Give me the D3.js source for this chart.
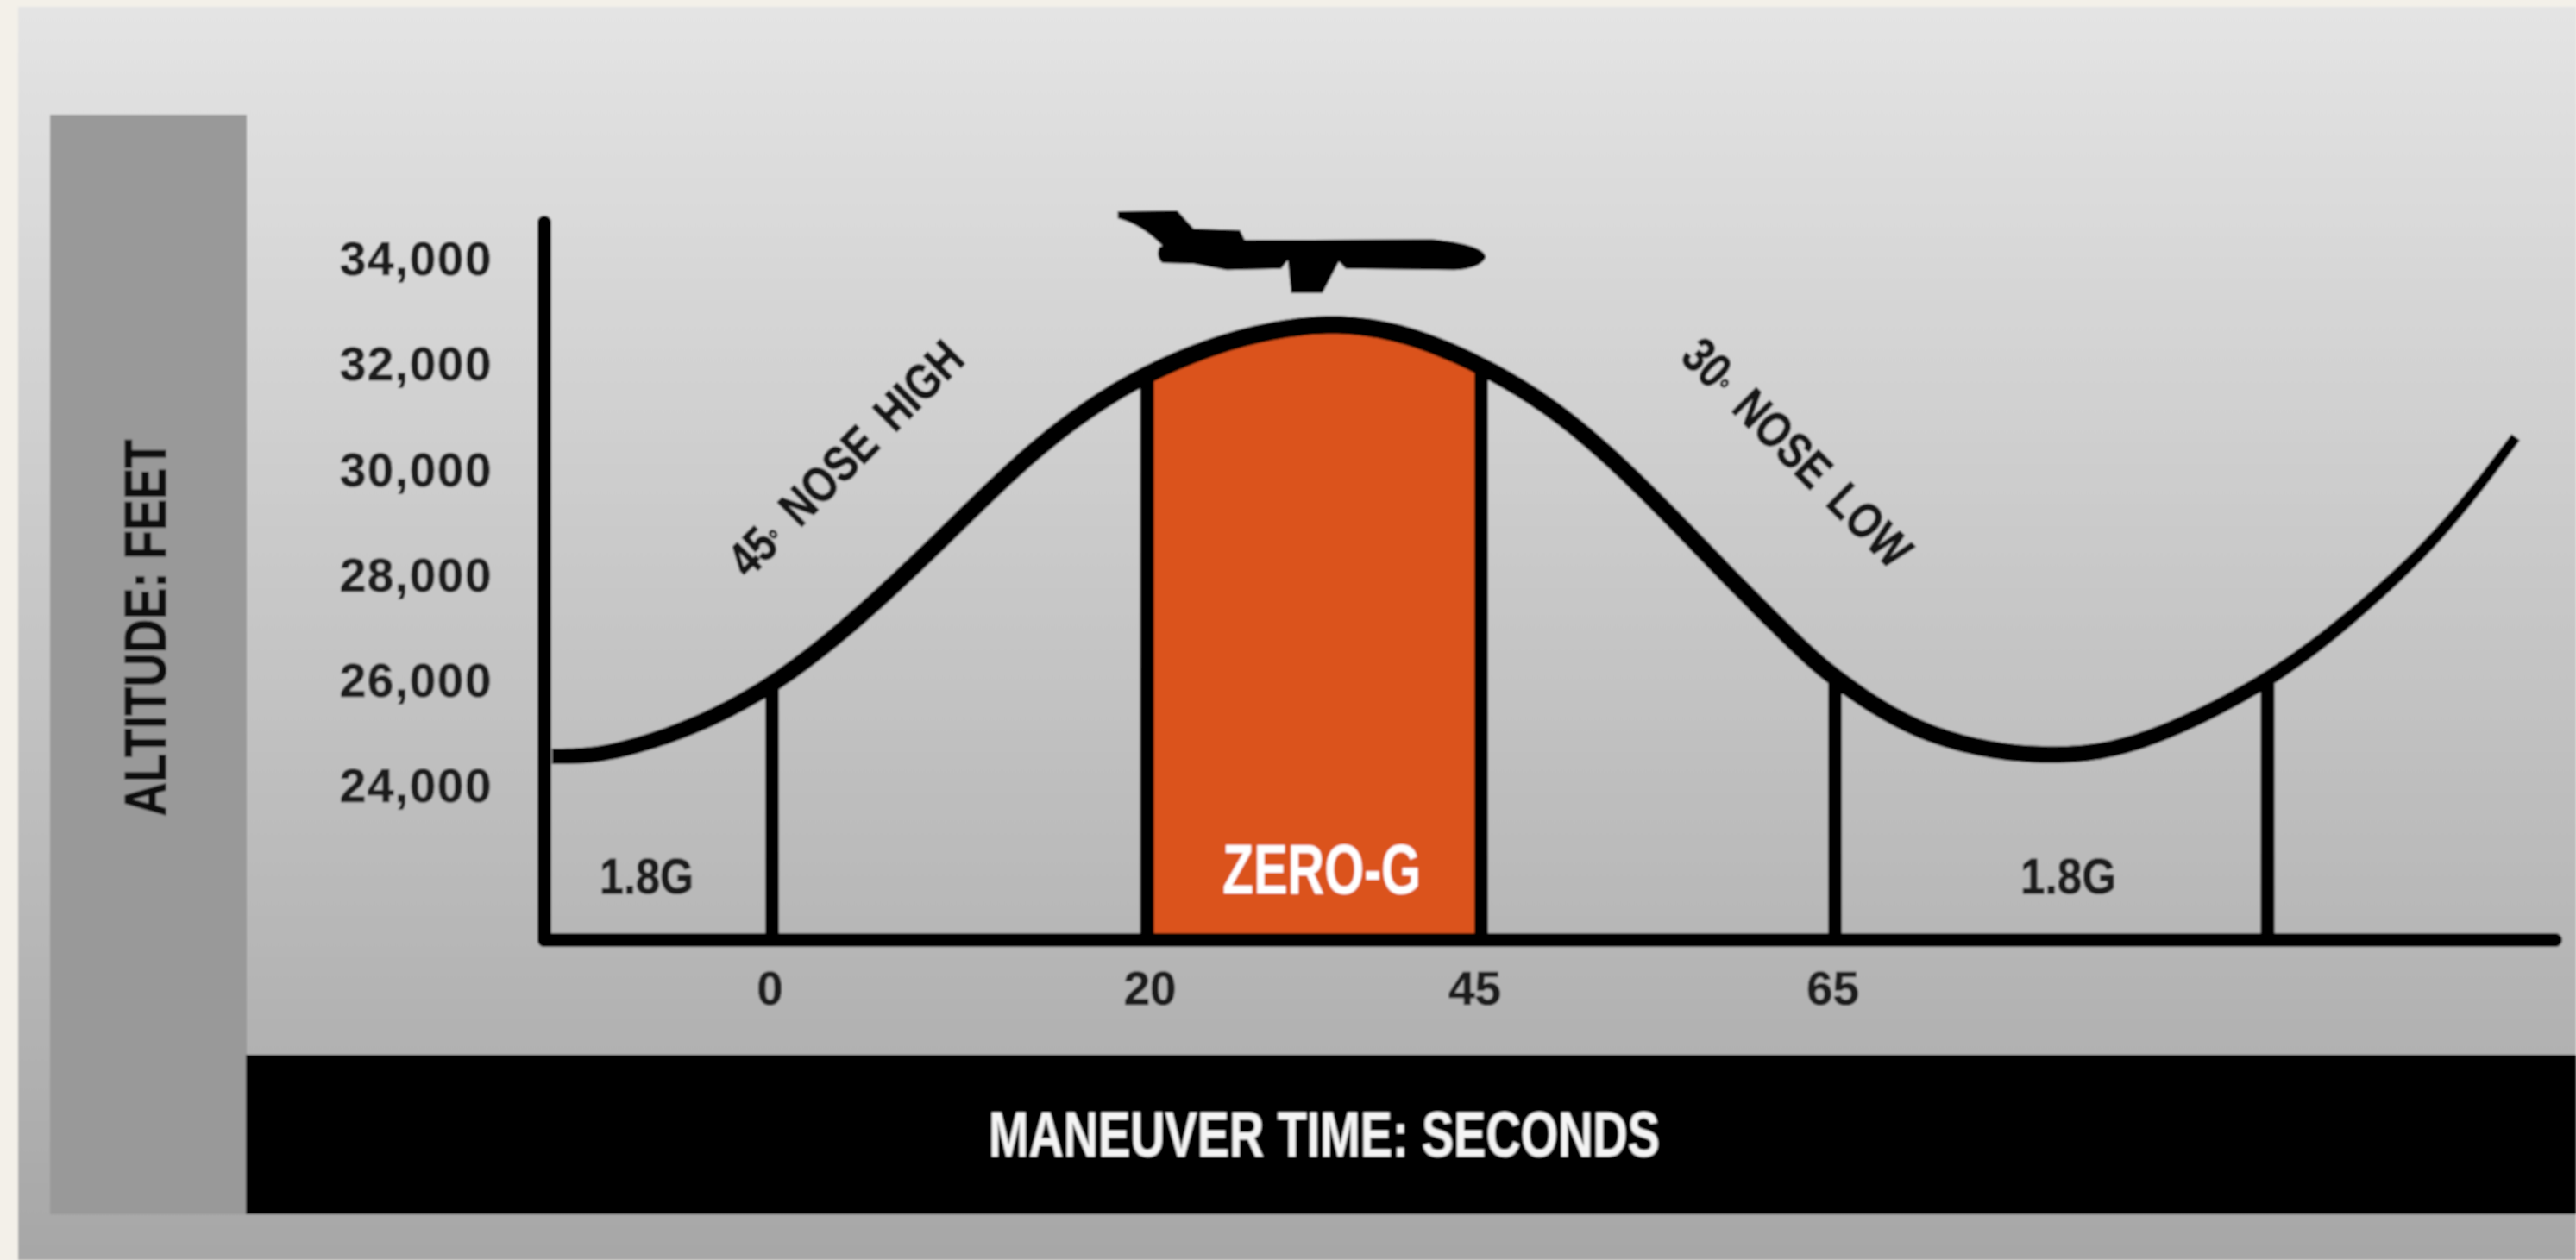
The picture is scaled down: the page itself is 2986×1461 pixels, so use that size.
<!DOCTYPE html>
<html>
<head>
<meta charset="utf-8">
<script src="https://cdn.jsdelivr.net/npm/d3@7"></script>
<style>
html,body{margin:0;padding:0;background:#f3f0e9;overflow:hidden}
svg{display:block}
text{font-family:"Liberation Sans Narrow","Liberation Sans",sans-serif;font-weight:700}
.tick text{font-family:"Liberation Sans",sans-serif;font-weight:700;fill:#1c1c1c}
</style>
</head>
<body>
<svg id="chart" width="2986" height="1461"></svg>
<script>
// Data
const seconds = [-11.74,-8.98,-4.37,0,4.37,8.75,13.12,16.66,20,25.84,31,34.87,39.39,45,49.54,54.17,58.8,63.2,65,68.27,71.9,75.49,79.08,85,89.17,93.15,96.5];
const altitude = [24573,24573,25080,25882,27110,28583,30137,31136,31856,32462,32740,32789,32609,32020,31103,29679,28042,26569,26046,25129,24671,24556,24753,25947,27289,28812,30645];
const altitudeTicks = [24000,26000,28000,30000,32000,34000];
const secondTicks = [0,20,45,65];
const phaseMarkers = [0,20,45,65,85];
const zeroGStart = 20, zeroGEnd = 45;
const gLabels = ["1.8G","ZERO-G","1.8G"];

const W = 2986, H = 1461;
const svg = d3.select("#chart");
const defs = svg.append("defs");
const grad = defs.append("linearGradient").attr("id","panel").attr("x1",0).attr("x2",0).attr("y1",0).attr("y2",1);
grad.append("stop").attr("offset",0).attr("stop-color","#e4e4e4");
grad.append("stop").attr("offset",1).attr("stop-color","#a7a7a7");
const blur = defs.append("filter").attr("id","soft").attr("filterUnits","userSpaceOnUse")
  .attr("x",0).attr("y",0).attr("width",W).attr("height",H);
blur.append("feGaussianBlur").attr("stdDeviation",1.3);

const root = svg.append("g").attr("filter","url(#soft)");
root.append("rect").attr("width",W).attr("height",H).attr("fill","#f3f0e9");
root.append("rect").attr("x",21).attr("y",8).attr("width",W-21).attr("height",H-8).attr("fill","url(#panel)");
root.append("rect").attr("x",58).attr("y",133).attr("width",228).attr("height",1275).attr("fill","#999999");
root.append("rect").attr("x",285).attr("y",1223).attr("width",W-285).attr("height",185).attr("fill","#000");

// Scales: the time axis of the original is not uniform between its phases
const x = d3.scaleLinear().domain(phaseMarkers).range([895,1329.5,1717,2127,2628.5]);
const y = d3.scaleLinear().domain([24000,34000]).range([912,301]);
const axisLeftX = 631, baseY = 1090;

const pts = seconds.map((s,i)=>({s,a:altitude[i]}));
const smooth = d3.curveBasis;

// Zero-G area
const inZero = pts.filter(d=>d.s>=zeroGStart-6 && d.s<=zeroGEnd+5);
root.append("clipPath").attr("id","zeroClip").append("rect")
  .attr("x",x(zeroGStart)).attr("width",x(zeroGEnd)-x(zeroGStart)).attr("y",0).attr("height",H);
root.append("path")
  .attr("clip-path","url(#zeroClip)")
  .attr("d",d3.area().x(d=>x(d.s)).y0(baseY).y1(d=>y(d.a)).curve(smooth)(inZero))
  .attr("fill","#db521d");

// Phase markers
root.selectAll("line.phase").data(phaseMarkers).join("line").attr("class","phase")
  .attr("x1",d=>x(d)).attr("x2",d=>x(d))
  .attr("y1",d=>y(pts.find(p=>p.s===d).a)).attr("y2",baseY)
  .attr("stroke","#000").attr("stroke-width",16);

// Axes lines
root.append("path")
  .attr("d",d3.line()([[axisLeftX,258],[axisLeftX,baseY],[x(96.5)+45,baseY]]))
  .attr("fill","none").attr("stroke","#000").attr("stroke-width",16).attr("stroke-linejoin","round").attr("stroke-linecap","round");

// Flight path: drawn as an outline so its weight can thin toward the end, like the source
const lineGen = d3.line().x(d=>x(d.s)).y(d=>y(d.a)).curve(smooth);
const guide = svg.append("path").attr("d",lineGen(pts)).attr("fill","none").attr("stroke","none");
const node = guide.node(), L = node.getTotalLength();
const weight = d3.scaleLinear().domain([640,1000,1537,2127,2628,2917]).range([18,21,21,21,18,12]).clamp(true);
const upper=[],lower=[];
for(let l=0;l<=L;l+=6){
  const p=node.getPointAtLength(l), q=node.getPointAtLength(Math.min(L,l+1)), r=node.getPointAtLength(Math.max(0,l-1));
  const dx=q.x-r.x, dy=q.y-r.y, n=Math.hypot(dx,dy)||1, w=weight(p.x)/2;
  upper.push([p.x-dy/n*w,p.y+dx/n*w]);
  lower.push([p.x+dy/n*w,p.y-dx/n*w]);
}
guide.remove();
root.append("path").attr("d",d3.line()(upper.concat(lower.reverse()))+"Z").attr("fill","#000");

// Airplane icon
root.append("path")
  .attr("transform","translate(1200,200) scale(0.3827,0.3333)")
  .attr("d","M250,135 L430,132 L480,195 L620,200 L635,235 L1200,232 Q1360,250 1365,295 Q1350,335 1270,340 L940,335 L920,310 L870,420 L775,420 L765,305 L745,335 L580,340 L480,318 L385,315 Q365,295 375,260 L385,255 Q320,180 250,160 Z")
  .attr("fill","#000");

// Tick labels via d3 axes
const yAxis = d3.axisLeft(y).tickValues(altitudeTicks).tickFormat(d3.format(",")).tickSize(0).tickPadding(60);
const gy = root.append("g").attr("transform",`translate(${axisLeftX},0)`).call(yAxis);
gy.select(".domain").remove();
gy.selectAll("text").attr("font-size",55).attr("letter-spacing",1.5).attr("stroke","#1c1c1c").attr("stroke-width",0.6);
const xAxis = d3.axisBottom(x).tickValues(secondTicks).tickFormat(d3.format("d")).tickSize(0).tickPadding(36);
const gx = root.append("g").attr("transform",`translate(0,${baseY})`).call(xAxis);
gx.select(".domain").remove();
const tickNudge = [-3,3,-8,-3];
gx.selectAll("text").attr("font-size",55).attr("dx",(d,i)=>tickNudge[i]).attr("stroke","#1c1c1c").attr("stroke-width",0.6);

function label(txt,cx,base,size,len,fill,rot,heavy){
  const t=root.append("text").attr("text-anchor","middle").attr("font-size",size)
    .attr("fill",fill).attr("textLength",len).attr("lengthAdjust","spacingAndGlyphs");
  const parts=txt.split("°");
  if(parts.length>1){
    t.attr("word-spacing",10);
    t.append("tspan").text(parts[0]);
    t.append("tspan").text("°").attr("font-size",size*0.55);
    t.append("tspan").text(parts[1]);
  } else t.text(txt);
  if(heavy) t.attr("stroke",fill).attr("stroke-width",heavy);
  t.attr("transform",`translate(${cx},${base})${rot?` rotate(${rot})`:""}`);
  return t;
}
// Phase labels
label(gLabels[0],749.5,1036,58,109,"#1c1c1c",0,1);
label(gLabels[1],1532,1036,82,230,"#fff");
label(gLabels[2],2397.5,1036,58,111,"#1c1c1c",0,1);
// Slope labels
label("45° NOSE HIGH",994,546,58,358,"#161616",-45,1.2);
label("30° NOSE LOW",2069,539,58,348,"#161616",45,1.2);
// Axis titles
label("MANEUVER TIME: SECONDS",1535,1341,74,778,"#f4f4f4");
label("ALTITUDE: FEET",192,728,68,437,"#111",-90,1);
</script>
</body>
</html>
